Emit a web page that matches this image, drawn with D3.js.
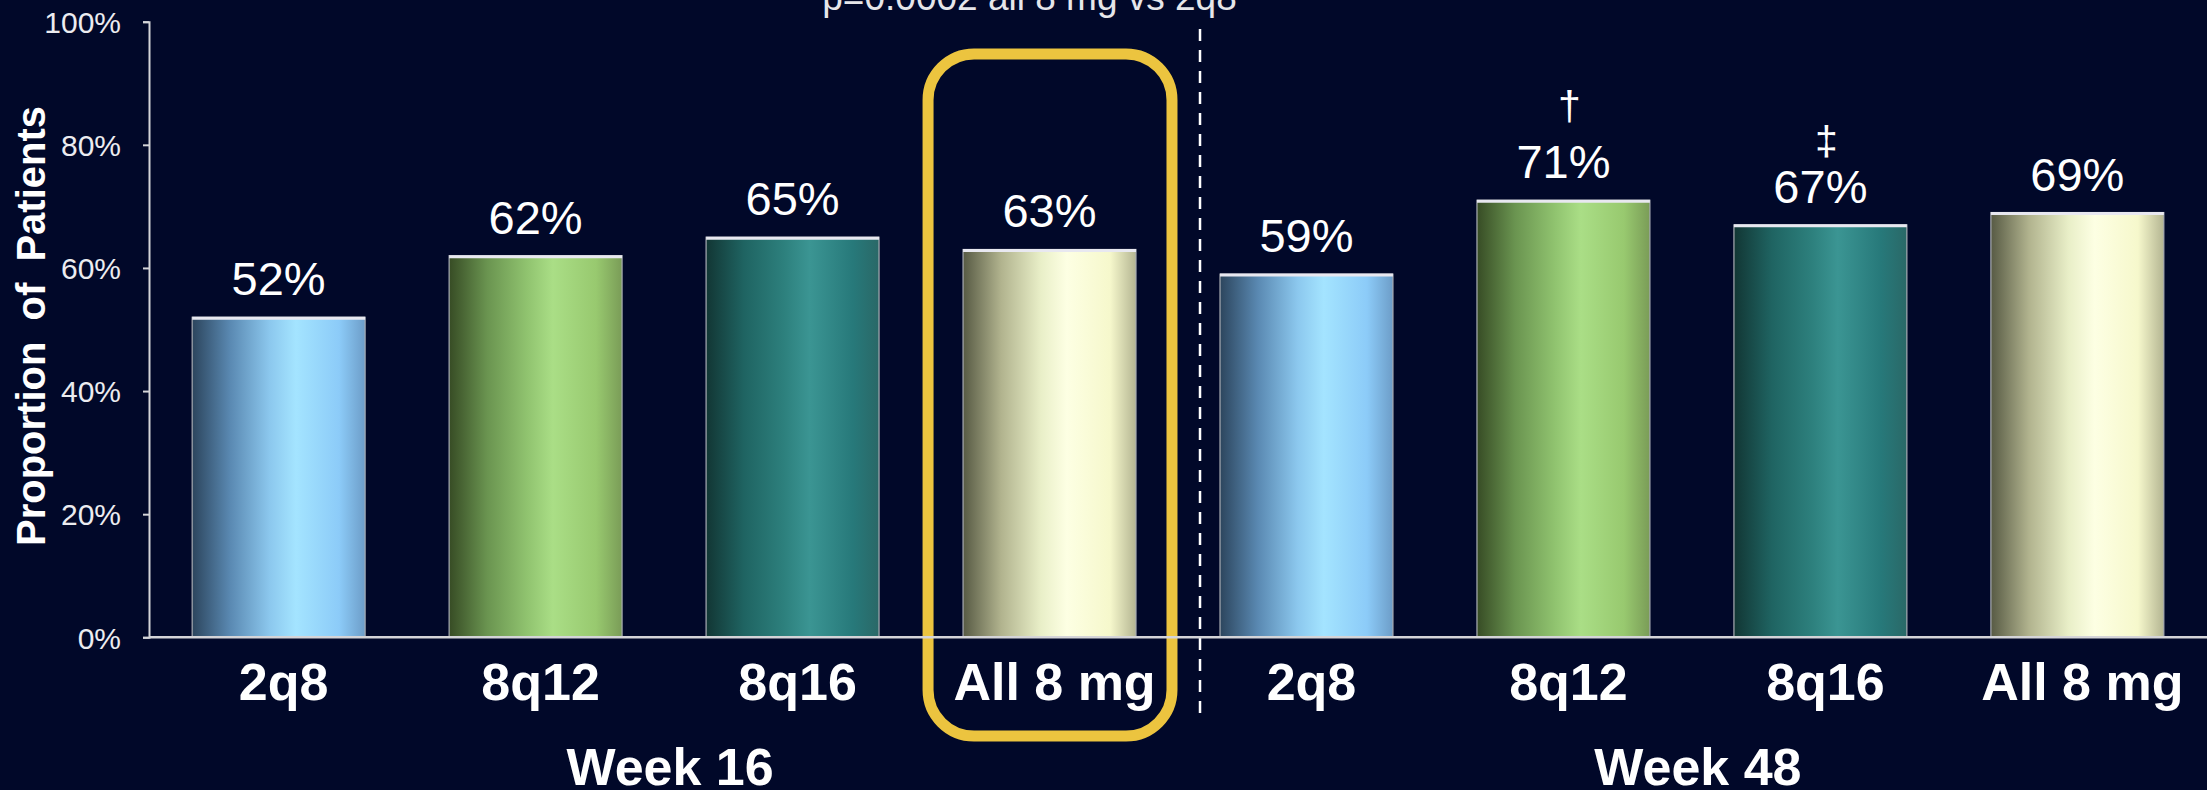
<!DOCTYPE html>
<html>
<head>
<meta charset="utf-8">
<script src="https://cdn.jsdelivr.net/npm/d3@7"></script>
<style>
  html, body { margin: 0; padding: 0; background: #010829; }
  svg { display: block; }
  text { font-family: "Liberation Sans", Arial, sans-serif; }
</style>
</head>
<body>
<svg id="chart" width="2207" height="790"></svg>
<script>
// Proportion of patients by regimen at week 16 and week 48
const weeks = ["Week 16", "Week 48"];
const regimens = ["2q8", "8q12", "8q16", "All 8 mg"];
const week16Values = [52, 62, 65, 63];
const week48Values = [59, 71, 67, 69];
const week48Markers = ["", "\u2020", "\u2021", ""];
const yTicks = [0, 20, 40, 60, 80, 100];
const pValueNote = "p=0.0002 all 8 mg vs 2q8";

// one gradient per regimen: dark left edge, bright highlight, softer right edge
const palettes = {
  "2q8":      ["#2c455d", "#5a89b2", "#8cc8ee", "#a4e4ff", "#8ccbf8", "#6d9dc8"],
  "8q12":     ["#374c25", "#6a9450", "#90c36f", "#aade86", "#98c96f", "#7a9c57"],
  "8q16":     ["#123634", "#1f6462", "#2d807d", "#3b9593", "#27797a", "#2a6867"],
  "All 8 mg": ["#575a44", "#b1b38e", "#e9efc8", "#fdffe3", "#f6f8cc", "#b4b592"]
};
const stopOffsets = [0, 0.22, 0.45, 0.6, 0.85, 1];

// vertical lift of each significance marker above its bar top
const markerLift = { "\u2020": 80, "\u2021": 70 };

const rows = [];
week16Values.forEach((v, i) => rows.push({ id: "w16-" + i, week: weeks[0], regimen: regimens[i], value: v, marker: "" }));
week48Values.forEach((v, i) => rows.push({ id: "w48-" + i, week: weeks[1], regimen: regimens[i], value: v, marker: week48Markers[i] }));

const W = 2207, H = 790;
const svg = d3.select("#chart");
svg.append("rect").attr("width", W).attr("height", H).attr("fill", "#010829");

const axisX = 149;
const y = d3.scaleLinear().domain([0, 100]).range([637.3, 21.7]);
const x = d3.scaleBand()
  .domain(rows.map(d => d.id))
  .range([axisX, W])
  .paddingInner(0.327)
  .paddingOuter(0.168);

// gradients
const defs = svg.append("defs");
regimens.forEach((r, i) => {
  const g = defs.append("linearGradient")
    .attr("id", "grad" + i)
    .attr("x1", 0).attr("x2", 1).attr("y1", 0).attr("y2", 0);
  palettes[r].forEach((c, k) => g.append("stop").attr("offset", stopOffsets[k]).attr("stop-color", c));
});
const gradId = r => "url(#grad" + regimens.indexOf(r) + ")";

// p-value note
const firstAll8 = rows.find(d => d.week === weeks[0] && d.regimen === "All 8 mg");
svg.append("text")
  .attr("x", x(firstAll8.id) + x.bandwidth() / 2 - 20)
  .attr("y", 10)
  .attr("text-anchor", "middle")
  .attr("fill", "#e6e6ea")
  .attr("font-size", 37)
  .text(pValueNote);

// y axis
const yAxis = svg.append("g")
  .attr("transform", `translate(${axisX},0)`)
  .call(d3.axisLeft(y).tickValues(yTicks).tickFormat(d => d + "%").tickSize(6).tickPadding(22));
yAxis.select(".domain").attr("stroke", "#d4d4d8").attr("stroke-width", 2);
yAxis.selectAll(".tick line").attr("stroke", "#d4d4d8").attr("stroke-width", 2);
yAxis.selectAll(".tick text")
  .attr("fill", "#ececf0")
  .attr("font-size", 30)
  .attr("font-family", "Liberation Sans, Arial, sans-serif")
  .attr("dy", "0.36em");

// y axis title
svg.append("text")
  .attr("transform", `translate(45,326) rotate(-90)`)
  .attr("text-anchor", "middle")
  .attr("fill", "#ffffff")
  .attr("font-size", 40)
  .attr("font-weight", "bold")
  .attr("word-spacing", 10)
  .text("Proportion of Patients");

// highlight frame around the week 16 all 8 mg bar
const hx0 = x(firstAll8.id) - 35;
const hx1 = x(firstAll8.id) + x.bandwidth() + 36;
svg.append("rect")
  .attr("x", hx0).attr("y", 54)
  .attr("width", hx1 - hx0).attr("height", 736 - 54)
  .attr("rx", 46).attr("ry", 46)
  .attr("fill", "none")
  .attr("stroke", "#ecc43f")
  .attr("stroke-width", 11);

// week separator
const firstW48 = rows.find(d => d.week === weeks[1]);
const sepX = x(firstW48.id) - 20;
svg.append("line")
  .attr("x1", sepX).attr("x2", sepX)
  .attr("y1", 29).attr("y2", 720)
  .attr("stroke", "#ffffff")
  .attr("stroke-width", 2.5)
  .attr("stroke-dasharray", "12 9");

// bars
const bars = svg.append("g").selectAll("g").data(rows).join("g");
bars.append("rect")
  .attr("x", d => x(d.id))
  .attr("y", d => y(d.value))
  .attr("width", x.bandwidth())
  .attr("height", d => y(0) - y(d.value))
  .attr("fill", d => gradId(d.regimen))
  .attr("stroke", "#a9adb4")
  .attr("stroke-width", 1.2);
bars.append("line")
  .attr("x1", d => x(d.id))
  .attr("x2", d => x(d.id) + x.bandwidth())
  .attr("y1", d => y(d.value) + 1)
  .attr("y2", d => y(d.value) + 1)
  .attr("stroke", "#e8e8f0")
  .attr("stroke-width", 3);

// value labels
bars.append("text")
  .attr("x", d => x(d.id) + x.bandwidth() / 2)
  .attr("y", d => y(d.value) - 22)
  .attr("text-anchor", "middle")
  .attr("fill", "#ffffff")
  .attr("font-size", 47)
  .text(d => d.value + "%");

// significance markers
bars.filter(d => d.marker).append("text")
  .attr("x", d => x(d.id) + x.bandwidth() / 2 + 6)
  .attr("y", d => y(d.value) - markerLift[d.marker])
  .attr("text-anchor", "middle")
  .attr("fill", "#ffffff")
  .attr("font-size", 41)
  .text(d => d.marker);

// x baseline
svg.append("line")
  .attr("x1", axisX).attr("x2", W)
  .attr("y1", y(0)).attr("y2", y(0))
  .attr("stroke", "#d4d4d8")
  .attr("stroke-width", 2.5);

// regimen labels
svg.append("g").selectAll("text").data(rows).join("text")
  .attr("x", d => x(d.id) + x.bandwidth() / 2 + 5)
  .attr("y", 700)
  .attr("text-anchor", "middle")
  .attr("fill", "#ffffff")
  .attr("font-size", 52)
  .attr("font-weight", "bold")
  .text(d => d.regimen);

// week labels
svg.append("g").selectAll("text").data(weeks).join("text")
  .attr("x", w => {
    const ids = rows.filter(d => d.week === w).map(d => x(d.id) + x.bandwidth() / 2);
    return d3.mean(ids) + 6;
  })
  .attr("y", 785)
  .attr("text-anchor", "middle")
  .attr("fill", "#ffffff")
  .attr("font-size", 52)
  .attr("font-weight", "bold")
  .text(w => w);
</script>
</body>
</html>
